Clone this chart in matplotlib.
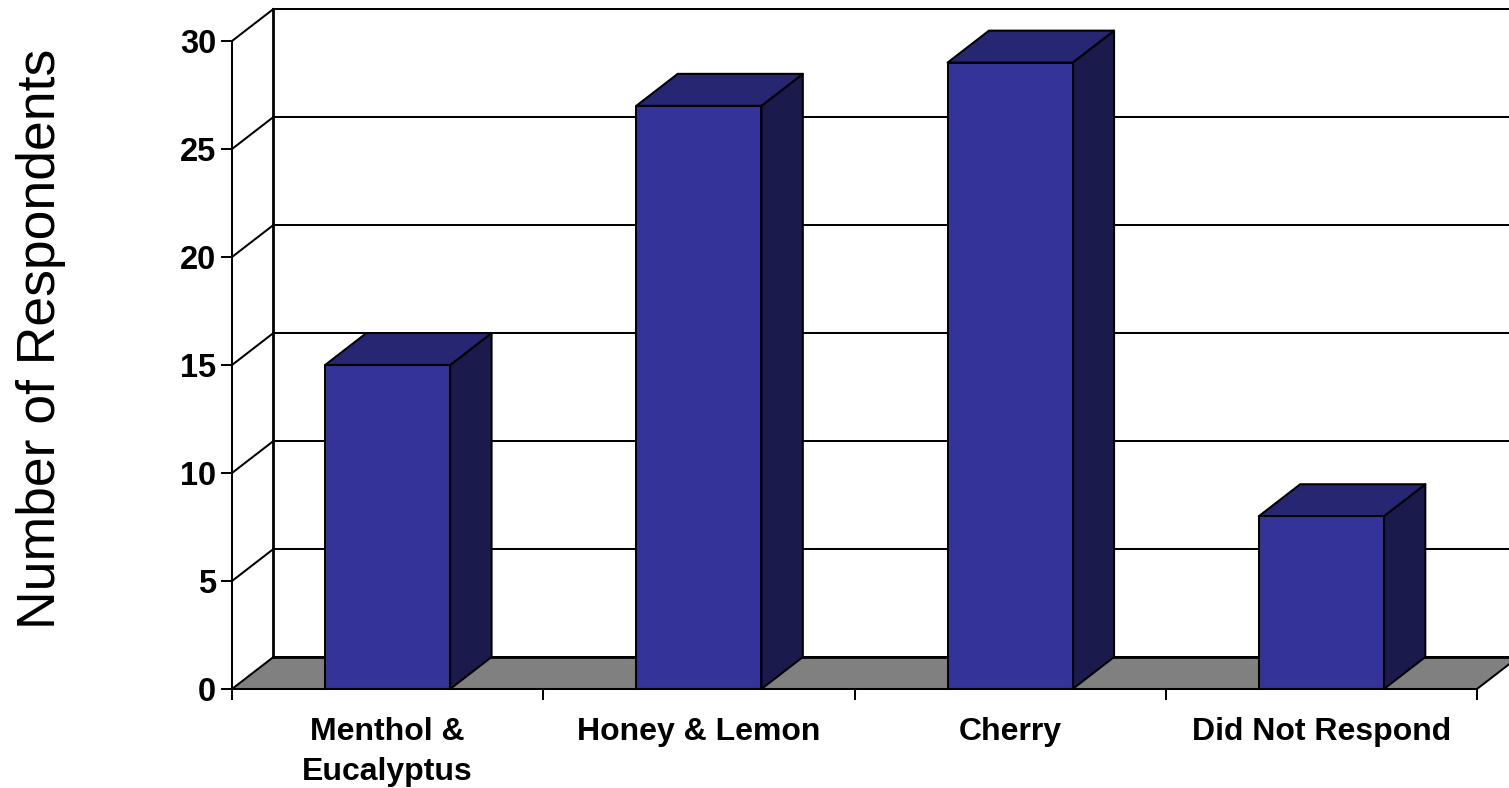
import numpy as np
import matplotlib
matplotlib.use('Agg')
import matplotlib.pyplot as plt
from matplotlib.patches import Polygon

plt.rcParams['font.family'] = ['Liberation Sans', 'DejaVu Sans']

# data
categories = ['Menthol &\nEucalyptus', 'Honey & Lemon', 'Cherry', 'Did Not Respond']
values = [15, 27, 29, 8]
y_ticks = [0, 5, 10, 15, 20, 25, 30]

# style
FRONT = '#333399'
TOP = '#262673'
SIDE = '#1A1A4D'
FLOOR = '#808080'
BAR_W = 0.402
DX, DY = 0.133, 1.48   # 3d depth offset in data units
LW = 1.45

W, H = 1509, 788
fig = plt.figure(figsize=(W / 100, H / 100), dpi=100)
ax = fig.add_axes([232 / W, 1 - 689 / H, (1477 - 232) / W, (689 - 41) / H])
ax.set_xlim(0, 4)
ax.set_ylim(0, 30)


def poly(pts, color, z):
    ax.add_patch(Polygon(pts, closed=True, facecolor=color, edgecolor='black',
                         lw=LW, joinstyle='round', clip_on=False, zorder=z))


# floor
poly([(0, 0), (DX, DY), (4 + DX, DY), (4, 0)], FLOOR, 1)

# back wall + side wall lines
top_y = y_ticks[-1]
for t in y_ticks[1:]:
    ax.plot([0, DX], [t, t + DY], color='black', lw=LW, clip_on=False, zorder=2)
    ax.plot([DX, 4 + DX], [t + DY, t + DY], color='black', lw=LW, clip_on=False, zorder=2)
ax.plot([DX, DX], [DY, top_y + DY], color='black', lw=2, clip_on=False, zorder=2)
ax.plot([DX, 4 + DX], [DY, DY], color='black', lw=2, clip_on=False, zorder=2)

# bars
for i, v in enumerate(values):
    x0 = i + 0.5 - BAR_W / 2
    x1 = i + 0.5 + BAR_W / 2
    poly([(x1, 0), (x1 + DX, DY), (x1 + DX, v + DY), (x1, v)], SIDE, 3)
    poly([(x0, v), (x0 + DX, v + DY), (x1 + DX, v + DY), (x1, v)], TOP, 3)
    poly([(x0, 0), (x1, 0), (x1, v), (x0, v)], FRONT, 4)

# axes
for s in ['top', 'right']:
    ax.spines[s].set_visible(False)
for s in ['left', 'bottom']:
    ax.spines[s].set_linewidth(LW)
    ax.spines[s].set_zorder(5)
ax.patch.set_visible(False)

ax.set_yticks(y_ticks)
ax.set_yticklabels([str(t) for t in y_ticks], fontsize=23.5, fontweight='bold')
ax.tick_params(axis='y', length=8, width=LW, pad=3.5)

ax.set_xticks(range(5))
ax.set_xticklabels([])
ax.tick_params(axis='x', which='major', length=8, width=LW)
ax.set_xticks(np.arange(4) + 0.5, minor=True)
ax.set_xticklabels(categories, minor=True, fontsize=23, fontweight='bold', linespacing=1.46)
ax.tick_params(axis='x', which='minor', length=0, pad=20)

fig.text(41.5 / W, 1 - 339 / H, 'Number of Respondents', rotation=90, fontsize=38.5,
         ha='center', va='center')

fig.savefig('out.png', dpi=100)
